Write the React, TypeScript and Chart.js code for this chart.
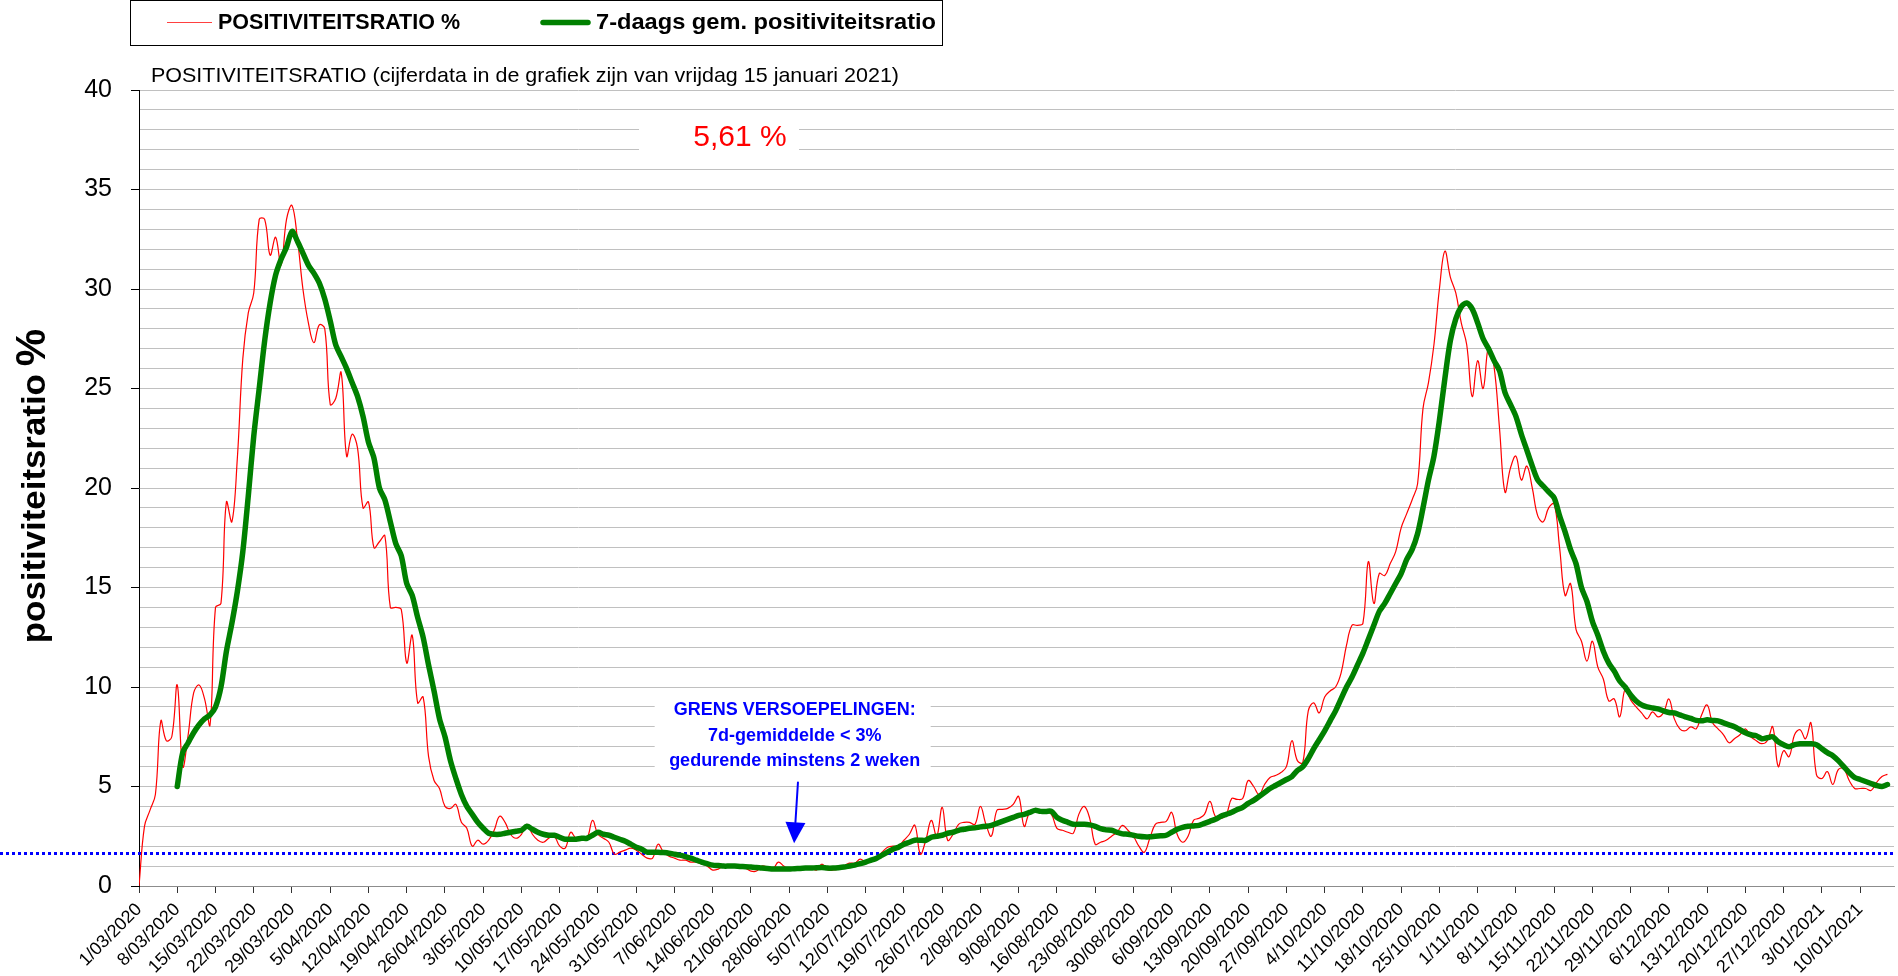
import React, { useEffect, useRef } from "react";
import { Chart, registerables } from "chart.js";

Chart.register(...registerables);

const tickLabels = [
  "1/03/2020", "8/03/2020", "15/03/2020", "22/03/2020", "29/03/2020", "5/04/2020", "12/04/2020",
  "19/04/2020", "26/04/2020", "3/05/2020", "10/05/2020", "17/05/2020", "24/05/2020", "31/05/2020",
  "7/06/2020", "14/06/2020", "21/06/2020", "28/06/2020", "5/07/2020", "12/07/2020", "19/07/2020",
  "26/07/2020", "2/08/2020", "9/08/2020", "16/08/2020", "23/08/2020", "30/08/2020", "6/09/2020",
  "13/09/2020", "20/09/2020", "27/09/2020", "4/10/2020", "11/10/2020", "18/10/2020", "25/10/2020",
  "1/11/2020", "8/11/2020", "15/11/2020", "22/11/2020", "29/11/2020", "6/12/2020", "13/12/2020",
  "20/12/2020", "27/12/2020", "3/01/2021", "10/01/2021",
];
const daysPerTick = 7;

// daily positivity ratio, day 0 = 1/03/2020 ... day 320 = 15/01/2021
const dailyRatio = [
  0, 3.0, 3.8, 4.6, 8.3, 7.3, 7.5, 10.1, 6.0, 7.6,
  9.7, 10.1, 9.4, 8.1, 14.0, 14.2, 19.3, 18.3, 21.5, 26.5,
  28.8, 29.8, 33.5, 33.5, 31.7, 32.6, 31.2, 33.5, 34.2, 32.5,
  30.0, 28.3, 27.3, 28.2, 28.0, 24.2, 24.5, 25.8, 21.6, 22.7,
  22.0, 19.0, 19.3, 17.0, 17.3, 17.6, 14.0, 14.0, 13.9, 11.2,
  12.6, 9.2, 9.5, 6.5, 5.3, 4.9, 4.0, 3.9, 4.1, 3.2,
  2.9, 2.0, 2.3, 2.1, 2.3, 2.8, 3.5, 3.2, 2.6, 2.4,
  2.6, 3.1, 2.6, 2.3, 2.2, 2.4, 2.5, 2.0, 1.9, 2.7,
  2.4, 2.4, 2.4, 3.3, 2.6, 2.4, 2.2, 1.6, 1.7, 1.8,
  1.9, 1.8, 1.6, 1.4, 1.4, 2.1, 1.7, 1.5, 1.4, 1.3,
  1.3, 1.2, 1.2, 1.1, 1.0, 0.8, 0.85, 1.0, 1.0, 1.05,
  1.0, 0.9, 0.75, 0.75, 1.0, 0.95, 0.85, 1.2, 1.0, 0.8,
  0.8, 0.8, 0.95, 0.9, 0.8, 1.1, 0.8, 0.8, 0.85, 1.0,
  1.15, 1.15, 1.35, 1.2, 1.3, 1.4, 1.7, 1.95, 2.0, 2.0,
  2.3, 2.6, 3.05, 1.6, 2.3, 3.3, 2.5, 3.95, 2.3, 2.6,
  3.1, 3.2, 3.2, 3.1, 4.0, 3.1, 2.5, 3.8, 3.85, 3.9,
  4.1, 4.5, 3.0, 3.7, 3.8, 3.8, 3.75, 3.6, 2.9, 2.8,
  2.7, 2.65, 3.6, 4.0, 3.4, 2.1, 2.2, 2.3, 2.5, 2.7,
  3.05, 2.8, 2.5, 2.0, 1.7, 2.4, 3.1, 3.2, 3.25, 3.7,
  2.6, 2.2, 2.5, 3.3, 3.4, 3.6, 4.25, 3.5, 3.4, 3.6,
  4.4, 4.35, 4.4, 5.3, 5.0, 4.6, 5.1, 5.45, 5.55, 5.7,
  6.0, 7.3, 6.3, 6.2, 8.8, 9.2, 8.7, 9.5, 9.8, 10.0,
  10.7, 12.1, 13.1, 13.1, 13.2, 16.3, 14.2, 15.7, 15.6, 16.2,
  16.8, 18.0, 18.7, 19.4, 20.2, 24.0, 25.3, 27.2, 30.0, 31.9,
  30.6, 29.8, 28.3, 27.2, 24.6, 26.4, 25.0, 27.1, 26.1, 23.0,
  19.8, 21.0, 21.6, 20.4, 21.1, 20.0, 18.6, 18.3, 19.0, 19.2,
  17.0, 14.6, 15.2, 12.9, 12.3, 11.3, 12.3, 11.0, 10.4, 9.3,
  9.4, 8.5, 9.9, 9.35, 9.0, 8.7, 8.4, 8.75, 8.5, 8.7,
  9.4, 8.4, 7.9, 7.8, 8.0, 7.9, 8.6, 9.1, 8.2, 7.9,
  7.6, 7.2, 7.4, 7.6, 7.9, 7.5, 7.3, 7.15, 7.3, 8.0,
  6.0, 6.8, 6.5, 7.6, 7.85, 7.4, 8.2, 5.6, 5.4, 5.75,
  5.1, 5.85, 5.9, 5.3, 4.9, 4.9, 4.9, 4.8, 5.2, 5.5, 5.61,
];

// 7-day average, starting at day 7 (8/03/2020)
const avgStartDay = 7;
const avg7 = [
  5.0, 6.7, 7.2,
  7.7, 8.1, 8.4, 8.6, 9.0, 10.0, 11.8, 13.2, 14.8, 16.8,
  19.6, 22.6, 25.0, 27.4, 29.3, 30.7, 31.5, 32.1, 32.9, 32.4,
  31.8, 31.2, 30.8, 30.3, 29.5, 28.4, 27.2, 26.6, 26.0, 25.3,
  24.6, 23.6, 22.3, 21.5, 20.0, 19.4, 18.3, 17.2, 16.6, 15.2,
  14.6, 13.5, 12.5, 11.1, 9.8, 8.4, 7.5, 6.3, 5.4, 4.6,
  4.0, 3.6, 3.2, 2.9, 2.65, 2.6, 2.6, 2.65, 2.7, 2.75,
  2.8, 3.0, 2.85, 2.7, 2.6, 2.55, 2.55, 2.45, 2.35, 2.35,
  2.35, 2.4, 2.4, 2.55, 2.7, 2.6, 2.55, 2.45, 2.35, 2.25,
  2.1, 1.95, 1.85, 1.7, 1.7, 1.7, 1.68, 1.65, 1.6, 1.55,
  1.48, 1.4, 1.3, 1.2, 1.12, 1.05, 1.03, 1.0, 1.0, 1.0,
  0.98, 0.97, 0.95, 0.93, 0.9, 0.88, 0.85, 0.85, 0.85, 0.85,
  0.87, 0.88, 0.9, 0.9, 0.92, 0.93, 0.9, 0.9, 0.92, 0.95,
  1.0, 1.05, 1.12, 1.2, 1.3, 1.4, 1.55, 1.7, 1.85, 1.95,
  2.1, 2.2, 2.3, 2.3, 2.3, 2.45, 2.5, 2.55, 2.65, 2.7,
  2.8, 2.85, 2.9, 2.92, 2.97, 3.0, 3.05, 3.15, 3.25, 3.35,
  3.45, 3.55, 3.6, 3.7, 3.8, 3.75, 3.75, 3.75, 3.45, 3.3,
  3.2, 3.1, 3.1, 3.1, 3.07, 3.0, 2.88, 2.82, 2.8, 2.7,
  2.62, 2.6, 2.55, 2.5, 2.47, 2.47, 2.5, 2.52, 2.55, 2.7,
  2.85, 2.95, 3.0, 3.02, 3.05, 3.15, 3.25, 3.35, 3.5, 3.6,
  3.7, 3.85, 3.95, 4.15, 4.3, 4.5, 4.7, 4.9, 5.05, 5.2,
  5.35, 5.5, 5.8, 6.0, 6.4, 6.9, 7.35, 7.8, 8.3, 8.8,
  9.4, 10.0, 10.5, 11.1, 11.7, 12.4, 13.1, 13.8, 14.2, 14.7,
  15.2, 15.7, 16.4, 16.9, 17.7, 19.0, 20.4, 21.6, 23.4, 25.5,
  27.4, 28.5, 29.1, 29.3, 29.0, 28.3, 27.5, 27.0, 26.4, 25.9,
  24.8, 24.2, 23.6, 22.7, 21.9, 21.1, 20.4, 20.1, 19.8, 19.5,
  18.6, 17.8, 16.9, 16.2, 15.0, 14.3, 13.3, 12.6, 11.8, 11.2,
  10.8, 10.3, 10.0, 9.6, 9.3, 9.1, 9.0, 8.95, 8.9, 8.8,
  8.72, 8.7, 8.6, 8.5, 8.42, 8.32, 8.3, 8.35, 8.32, 8.3,
  8.2, 8.1, 8.0, 7.85, 7.7, 7.6, 7.55, 7.4, 7.45, 7.5,
  7.25, 7.1, 7.0, 7.1, 7.15, 7.15, 7.15, 7.1, 6.9, 6.7,
  6.55, 6.3, 6.0, 5.7, 5.45, 5.35, 5.25, 5.15, 5.05, 5.0, 5.1,
];

const seriesNames = ["POSITIVITEITSRATIO %", "7-daags gem. positiviteitsratio"];
const subtitle = "POSITIVITEITSRATIO (cijferdata in de grafiek zijn van vrijdag 15 januari 2021)";
const yTitle = "positiviteitsratio";
const yTitleUnit = "%";
const latestLabel = "5,61 %";
const thresholdValue = 1.65;
const noteLines = ["GRENS VERSOEPELINGEN:", "7d-gemiddelde < 3%", "gedurende minstens 2 weken"];

// annotation anchors in data units
const latestAnchor = { day: 110, value: 37.6 };
const noteAnchor = { day: 120, values: [8.85, 7.55, 6.3] };
const arrowAnchor = { dayTop: 120.6, valueTop: 5.2, dayTip: 119.9, valueTip: 2.15 };

const FONT = '"Liberation Sans", Arial, Helvetica, sans-serif';
const W = 1898;
const H = 976;

function fillFit(ctx: CanvasRenderingContext2D, text: string, x: number, y: number, targetW: number) {
  const w = ctx.measureText(text).width;
  ctx.save();
  ctx.translate(x, y);
  ctx.scale(targetW / w, 1);
  ctx.fillText(text, 0, 0);
  ctx.restore();
}

export default function App() {
  const ref = useRef<HTMLCanvasElement>(null);

  useEffect(() => {
    const canvas = ref.current;
    if (!canvas) return;

    const overlay = {
      id: "overlay",
      beforeDatasetsDraw(chart: any) {
        const { ctx, chartArea, scales } = chart;
        const x = scales.x;
        const y = scales.y;
        ctx.save();
        // white boxes behind annotations
        ctx.fillStyle = "#ffffff";
        const lx = x.getPixelForValue(latestAnchor.day);
        const ly = y.getPixelForValue(latestAnchor.value);
        ctx.fillRect(lx - 101, ly - 22, 160, 44);
        const nx = x.getPixelForValue(noteAnchor.day);
        const ny0 = y.getPixelForValue(noteAnchor.values[0]);
        const ny2 = y.getPixelForValue(noteAnchor.values[2]);
        ctx.fillRect(nx - 140, ny0 - 17, 276, ny2 - ny0 + 34);
        // threshold dotted line
        const ty = Math.round(y.getPixelForValue(thresholdValue)) + 0.5;
        ctx.strokeStyle = "#0000ff";
        ctx.lineWidth = 3;
        ctx.setLineDash([3, 3]);
        ctx.beginPath();
        ctx.moveTo(0, ty);
        ctx.lineTo(chartArea.right, ty);
        ctx.stroke();
        ctx.restore();
      },
      afterDraw(chart: any) {
        const { ctx, scales } = chart;
        const x = scales.x;
        const y = scales.y;
        ctx.save();
        // legend box
        ctx.strokeStyle = "#000";
        ctx.lineWidth = 1;
        ctx.strokeRect(130.5, 0.5, 812, 45);
        ctx.textBaseline = "middle";
        ctx.textAlign = "left";
        ctx.lineCap = "butt";
        ctx.strokeStyle = "#ff4040";
        ctx.lineWidth = 1.2;
        ctx.beginPath();
        ctx.moveTo(167, 22.5);
        ctx.lineTo(212, 22.5);
        ctx.stroke();
        ctx.strokeStyle = "#008000";
        ctx.lineWidth = 5.5;
        ctx.lineCap = "round";
        ctx.beginPath();
        ctx.moveTo(543, 22.5);
        ctx.lineTo(588, 22.5);
        ctx.stroke();
        ctx.fillStyle = "#000";
        ctx.font = `bold 22px ${FONT}`;
        fillFit(ctx, seriesNames[0], 218, 23, 242);
        fillFit(ctx, seriesNames[1], 596, 23, 340);

        // subtitle
        ctx.font = `21px ${FONT}`;
        fillFit(ctx, subtitle, 151, 76, 748);

        // y title (rotated)
        ctx.save();
        const fMain = `bold 33px ${FONT}`;
        const fUnit = `bold 42px ${FONT}`;
        const mainW = 269;
        const gap = 8;
        ctx.font = fUnit;
        const w2 = ctx.measureText(yTitleUnit).width;
        const total = mainW + gap + w2;
        ctx.translate(45, 486);
        ctx.rotate(-Math.PI / 2);
        ctx.textBaseline = "alphabetic";
        ctx.font = fMain;
        fillFit(ctx, yTitle, -total / 2, 0, mainW);
        ctx.font = fUnit;
        ctx.fillText(yTitleUnit, -total / 2 + mainW + gap, 0);
        ctx.restore();

        // latest value label
        ctx.fillStyle = "#ff0000";
        ctx.font = `30px ${FONT}`;
        ctx.textAlign = "center";
        ctx.textBaseline = "middle";
        ctx.fillText(latestLabel, x.getPixelForValue(latestAnchor.day), y.getPixelForValue(latestAnchor.value));

        // note
        ctx.fillStyle = "#0000ff";
        ctx.font = `bold 18px ${FONT}`;
        const nx = x.getPixelForValue(noteAnchor.day);
        noteLines.forEach((t, i) => {
          ctx.fillText(t, nx, y.getPixelForValue(noteAnchor.values[i]));
        });

        // arrow
        const ax1 = x.getPixelForValue(arrowAnchor.dayTop);
        const ay1 = y.getPixelForValue(arrowAnchor.valueTop);
        const ax2 = x.getPixelForValue(arrowAnchor.dayTip);
        const ay2 = y.getPixelForValue(arrowAnchor.valueTip);
        const headLen = 21;
        const ang = Math.atan2(ay2 - ay1, ax2 - ax1);
        const bx = ax2 - headLen * Math.cos(ang);
        const by = ay2 - headLen * Math.sin(ang);
        ctx.strokeStyle = "#0000ff";
        ctx.lineWidth = 2;
        ctx.beginPath();
        ctx.moveTo(ax1, ay1);
        ctx.lineTo(bx, by);
        ctx.stroke();
        const px = -Math.sin(ang) * 10;
        const py = Math.cos(ang) * 10;
        ctx.fillStyle = "#0000ff";
        ctx.beginPath();
        ctx.moveTo(ax2, ay2);
        ctx.lineTo(bx + px, by + py);
        ctx.lineTo(bx - px, by - py);
        ctx.closePath();
        ctx.fill();
        ctx.restore();
      },
    };

    const chart = new Chart(canvas, {
      type: "line",
      data: {
        datasets: [
          {
            label: seriesNames[0],
            data: dailyRatio.map((v, i) => ({ x: i, y: v })),
            borderColor: "#ff0000",
            backgroundColor: "#ff0000",
            borderWidth: 1.2,
            pointRadius: 0,
            tension: 0.4,
            fill: false,
            order: 1,
          },
          {
            label: seriesNames[1],
            data: avg7.map((v, i) => ({ x: i + avgStartDay, y: v })),
            borderColor: "#008000",
            backgroundColor: "#008000",
            borderWidth: 5.5,
            pointRadius: 0,
            tension: 0.3,
            borderJoinStyle: "round",
            borderCapStyle: "round",
            fill: false,
            order: 0,
          },
        ],
      },
      options: {
        responsive: false,
        animation: false,
        devicePixelRatio: 1,
        layout: { padding: { top: 90, right: 4, left: 0, bottom: 0 } },
        plugins: {
          legend: { display: false },
          title: { display: false },
          tooltip: { enabled: false },
        },
        scales: {
          x: {
            type: "linear",
            min: 0,
            max: 321.2,
            afterBuildTicks: (s: any) => {
              s.ticks = tickLabels.map((_, i) => ({ value: i * daysPerTick }));
            },
            afterFit: (s: any) => {
              s.height = H - 886;
            },
            ticks: {
              autoSkip: false,
              maxRotation: 45,
              minRotation: 45,
              padding: 6,
              color: "#000",
              font: { family: FONT, size: 18 },
              callback: (v: any) => tickLabels[Math.round(Number(v) / daysPerTick)] ?? "",
            },
            grid: { drawOnChartArea: false, drawTicks: true, tickLength: 7, tickColor: "#333" },
            border: { display: true, color: "#8c8c8c", width: 1 },
          },
          y: {
            type: "linear",
            min: 0,
            max: 40,
            afterFit: (s: any) => {
              s.width = 139;
            },
            ticks: {
              stepSize: 1,
              autoSkip: false,
              padding: 19,
              color: "#000",
              font: { family: FONT, size: 25 },
              callback: (v: any) => (Number(v) % 5 === 0 ? String(v) : ""),
            },
            grid: {
              color: "#c0c0c0",
              lineWidth: 1,
              tickLength: 8,
              tickColor: (c: any) => (c.tick && c.tick.value % 5 === 0 ? "#000" : "rgba(0,0,0,0)"),
            },
            border: { display: true, color: "#000", width: 1 },
          },
        },
      },
      plugins: [overlay],
    } as any);

    return () => chart.destroy();
  }, []);

  return (
    <div style={{ position: "absolute", left: 0, top: 0, width: W, height: H, background: "#fff" }}>
      <canvas ref={ref} width={W} height={H} style={{ display: "block", width: W, height: H }} />
    </div>
  );
}
